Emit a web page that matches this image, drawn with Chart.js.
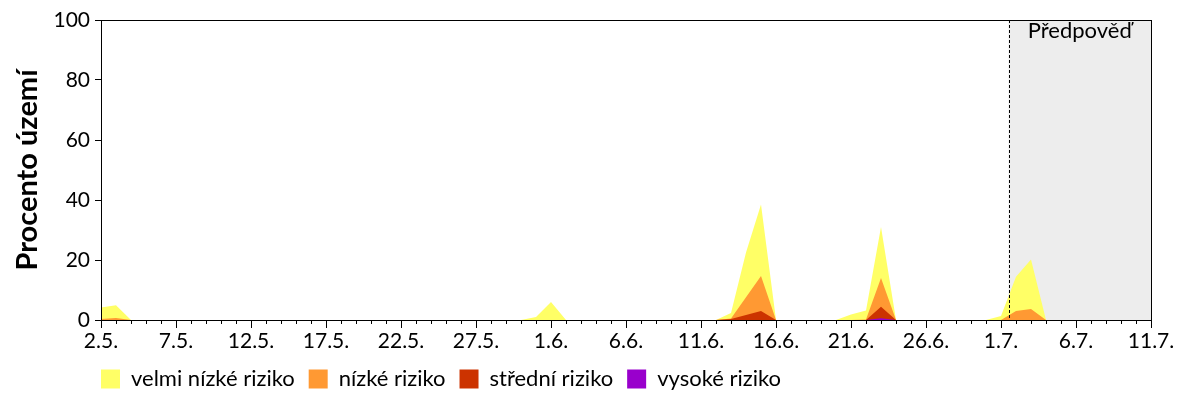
<!DOCTYPE html>
<html>
<head>
<meta charset="utf-8">
<script src="https://cdn.jsdelivr.net/npm/chart.js@4.4.1/dist/chart.umd.min.js"></script>
<style>
  html, body { margin: 0; padding: 0; background: #fff; }
</style>
</head>
<body>
<canvas id="graf" width="1200" height="400"></canvas>
<script>
// popisky dnů 2.5. – 11.7.
const dny = [];
[[5, 2, 31], [6, 1, 30], [7, 1, 11]].forEach(([mesic, od, doDne]) => {
    for (let d = od; d <= doDne; d++) dny.push(d + '.' + mesic + '.');
});
const indexy = dny.map((_, i) => i);

// procento území (kumulativně: aspoň dané riziko)
const velmiNizke = [
    4.2, 4.9, 0, 0, 0, 0, 0, 0, 0, 0,
    0, 0, 0, 0, 0, 0, 0, 0, 0, 0,
    0, 0, 0, 0, 0, 0, 0, 0, 0, 1,
    6, 0, 0, 0, 0, 0, 0, 0, 0, 0,
    0, 0, 2.3, 22.5, 38.5, 0, 0, 0, 0, 0,
    1.8, 3.2, 31, 0, 0, 0, 0, 0, 0, 0,
    1.3, 14.4, 20.2, 0, 0, 0, 0, 0, 0, 0,
    0
];
const nizke = [
    0.3, 0.7, 0, 0, 0, 0, 0, 0, 0, 0,
    0, 0, 0, 0, 0, 0, 0, 0, 0, 0,
    0, 0, 0, 0, 0, 0, 0, 0, 0, 0,
    0, 0, 0, 0, 0, 0, 0, 0, 0, 0,
    0, 0, 0.5, 7.6, 14.7, 0, 0, 0, 0, 0,
    0, 0.2, 14, 0, 0, 0, 0, 0, 0, 0,
    0, 3, 3.7, 0, 0, 0, 0, 0, 0, 0,
    0
];
const stredni = [
    0, 0, 0, 0, 0, 0, 0, 0, 0, 0,
    0, 0, 0, 0, 0, 0, 0, 0, 0, 0,
    0, 0, 0, 0, 0, 0, 0, 0, 0, 0,
    0, 0, 0, 0, 0, 0, 0, 0, 0, 0,
    0, 0, 0.3, 1.7, 3, 0, 0, 0, 0, 0,
    0, 0, 4.4, 0, 0, 0, 0, 0, 0, 0,
    0, 0, 0, 0, 0, 0, 0, 0, 0, 0,
    0
];
const vysoke = [
    0, 0, 0, 0, 0, 0, 0, 0, 0, 0,
    0, 0, 0, 0, 0, 0, 0, 0, 0, 0,
    0, 0, 0, 0, 0, 0, 0, 0, 0, 0,
    0, 0, 0, 0, 0, 0, 0, 0, 0, 0,
    0, 0, 0, 0, 0, 0, 0, 0, 0, 0,
    0, 0, 0.6, 0, 0, 0, 0, 0, 0, 0,
    0, 0, 0, 0, 0, 0, 0, 0, 0, 0,
    0
];
const yTicks = [0, 20, 40, 60, 80, 100];
const predpovedOd = 60.5; // mezi 1.7. a 2.7.

const pismo = 'Lato, "Open Sans", sans-serif';

// šedé pole předpovědi, čárkovaná čára, rámeček a vedlejší značky osy x
const predpovedPlugin = {
    id: 'predpoved',
    beforeDatasetsDraw(chart) {
        const { ctx, chartArea: a, scales: { x } } = chart;
        const x0 = x.getPixelForValue(predpovedOd);
        ctx.save();
        ctx.fillStyle = '#EDEDED';
        ctx.fillRect(x0, a.top, a.right - x0, a.bottom - a.top);
        ctx.fillStyle = '#000';
        ctx.font = '22px ' + pismo;
        ctx.textAlign = 'center';
        ctx.textBaseline = 'alphabetic';
        ctx.fillText('Předpověď', (x0 + a.right) / 2, a.top + 18);
        ctx.restore();
    },
    afterDatasetsDraw(chart) {
        const { ctx, chartArea: a, scales: { x } } = chart;
        const x0 = Math.round(x.getPixelForValue(predpovedOd)) + 0.5;
        ctx.save();
        ctx.strokeStyle = '#000';
        ctx.lineWidth = 1;
        ctx.setLineDash([3, 2]);
        ctx.beginPath();
        ctx.moveTo(x0, a.top);
        ctx.lineTo(x0, a.bottom);
        ctx.stroke();
        ctx.setLineDash([]);
        ctx.strokeRect(Math.round(a.left) + 0.5, Math.round(a.top) + 0.5,
            Math.round(a.right - a.left), Math.round(a.bottom - a.top));
        // vedlejší značky po dnech
        ctx.beginPath();
        indexy.forEach(i => {
            if (i % 5 === 0) return;
            const px = Math.round(x.getPixelForValue(i)) + 0.5;
            ctx.moveTo(px, a.bottom);
            ctx.lineTo(px, a.bottom + 4);
        });
        ctx.stroke();
        ctx.restore();
    },
    afterLayout(chart) {
        // legenda začíná u levého okraje grafu
        const lg = chart.legend;
        if (lg) lg.left = chart.chartArea.left - lg.options.labels.padding;
    }
};

new Chart(document.getElementById('graf'), {
    type: 'line',
    data: {
        labels: indexy,
        datasets: [
            { label: 'vysoké riziko', data: vysoke, backgroundColor: '#9900CC' },
            { label: 'střední riziko', data: stredni, backgroundColor: '#CC3300' },
            { label: 'nízké riziko', data: nizke, backgroundColor: '#FF9933' },
            { label: 'velmi nízké riziko', data: velmiNizke, backgroundColor: '#FFFF66' }
        ].map(ds => Object.assign(ds, {
            fill: 'origin',
            borderWidth: 0,
            borderColor: ds.backgroundColor,
            pointRadius: 0,
            tension: 0
        }))
    },
    options: {
        responsive: false,
        animation: false,
        devicePixelRatio: 1,
        layout: { padding: { top: 20, right: 49, left: 0, bottom: 0 } },
        scales: {
            x: {
                type: 'linear',
                min: 0,
                max: indexy.length - 1,
                afterFit(s) { s.height = 34; },
                ticks: {
                    stepSize: 5,
                    autoSkip: false,
                    maxRotation: 0,
                    padding: 1,
                    color: '#000',
                    font: { family: pismo, size: 21 },
                    callback: v => dny[v]
                },
                grid: { drawOnChartArea: false, tickLength: 8, tickColor: '#000' },
                border: { color: '#000' }
            },
            y: {
                min: 0,
                max: 100,
                afterFit(s) { s.width = 101; },
                afterBuildTicks(s) { s.ticks = yTicks.map(v => ({ value: v })); },
                ticks: {
                    color: '#000',
                    padding: 5,
                    font: { family: pismo, size: 21 }
                },
                grid: { drawOnChartArea: false, tickLength: 6, tickColor: '#000' },
                border: { color: '#000' },
                title: {
                    display: true,
                    text: 'Procento území',
                    color: '#000',
                    font: { family: pismo, size: 29, weight: 'bold' },
                    padding: { top: 10, bottom: 0 }
                }
            }
        },
        plugins: {
            legend: {
                position: 'bottom',
                align: 'start',
                fullSize: false,
                reverse: true,
                labels: {
                    boxWidth: 19,
                    boxHeight: 19,
                    padding: 14,
                    color: '#000',
                    font: { family: pismo, size: 22 }
                }
            },
            tooltip: { enabled: false }
        }
    },
    plugins: [predpovedPlugin]
});
</script>
</body>
</html>
